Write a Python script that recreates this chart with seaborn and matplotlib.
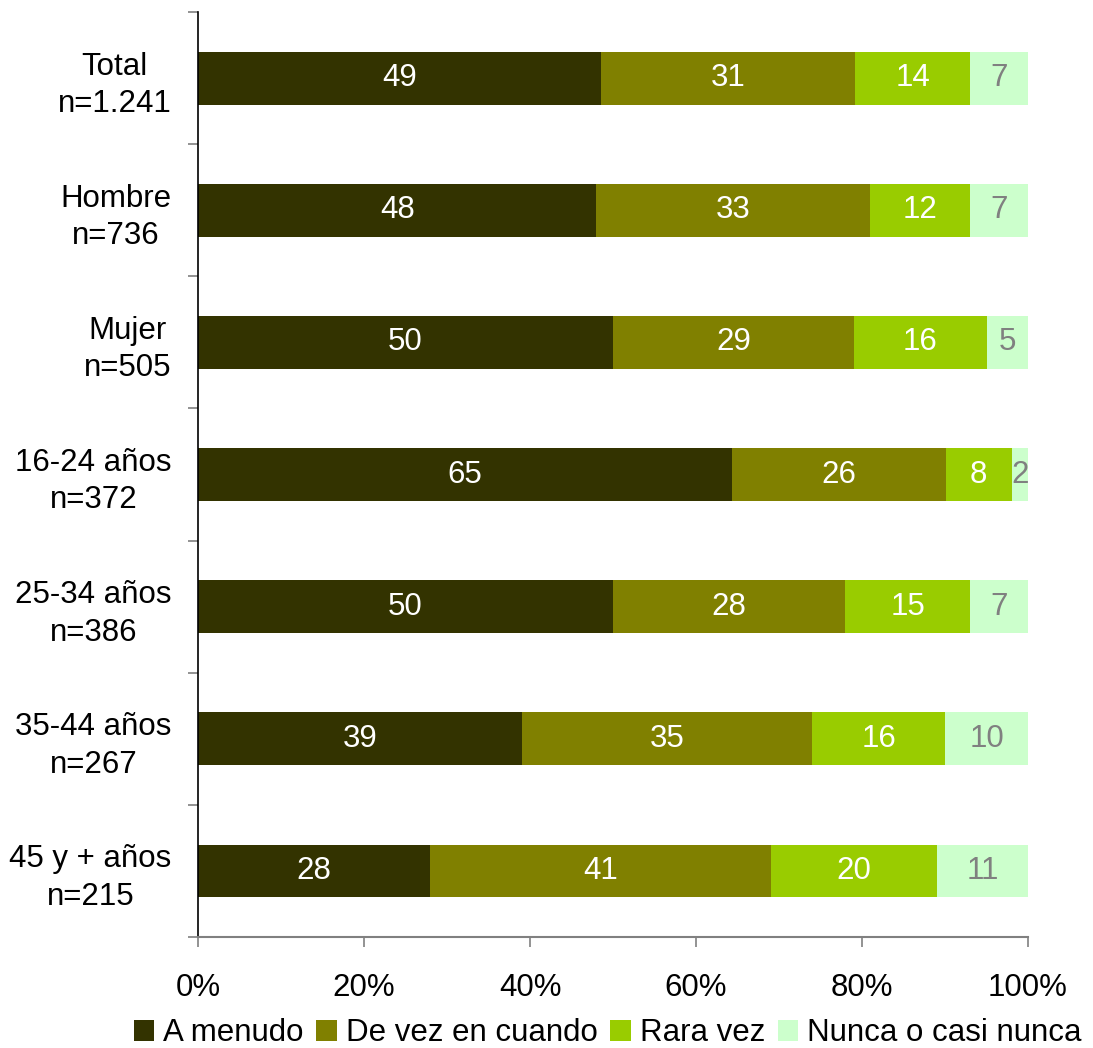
import numpy as np
import pandas as pd
import matplotlib
matplotlib.use("Agg")
import matplotlib.pyplot as plt
from matplotlib.patches import Patch
from matplotlib.ticker import FixedLocator, PercentFormatter
import seaborn as sns

categories = ["Total\nn=1.241", "Hombre\nn=736", "Mujer\nn=505", "16-24 años\nn=372",
              "25-34 años\nn=386", "35-44 años\nn=267", "45 y + años\nn=215"]
series_names = ["A menudo", "De vez en cuando", "Rara vez", "Nunca o casi nunca"]
a_menudo = [49, 48, 50, 65, 50, 39, 28]
de_vez = [31, 33, 29, 26, 28, 35, 41]
rara_vez = [14, 12, 16, 8, 15, 16, 20]
nunca = [7, 7, 5, 2, 7, 10, 11]
colors = ["#333300", "#808000", "#99CC00", "#CCFFCC"]
label_colors = ["white", "white", "white", "#808080"]

sns.set_theme(style="white")
plt.rcParams["font.family"] = ["Liberation Sans", "DejaVu Sans"]
plt.rcParams["text.color"] = "black"
plt.rcParams["xtick.labelcolor"] = "black"
plt.rcParams["ytick.labelcolor"] = "black"

FS = 22.5

vals = np.array([a_menudo, de_vez, rara_vez, nunca], dtype=float)
pct = vals / vals.sum(axis=0) * 100
cum = np.cumsum(pct, axis=0)
starts = cum - pct

fig = plt.figure(figsize=(10.93, 10.48), dpi=100)
ax = fig.add_axes([198 / 1093, 1 - 937 / 1048, 830 / 1093, 925 / 1048])

for i in range(len(series_names) - 1, -1, -1):
    df = pd.DataFrame({"cat": categories, "val": cum[i]})
    sns.barplot(data=df, y="cat", x="val", orient="h", color=colors[i],
                width=0.4, ax=ax, saturation=1, edgecolor="none", linewidth=0)

for i in range(len(series_names)):
    for j in range(len(categories)):
        ax.text(starts[i, j] + pct[i, j] / 2, j, str(int(vals[i, j])),
                ha="center", va="center", color=label_colors[i], fontsize=FS)

ax.set_xlim(0, 100)
ax.set_ylim(len(categories) - 0.5, -0.5)
ax.xaxis.set_major_locator(FixedLocator([0, 20, 40, 60, 80, 100]))
ax.xaxis.set_major_formatter(PercentFormatter(decimals=0))
ax.set_xlabel("")
ax.set_ylabel("")
ax.tick_params(axis="x", labelsize=FS, length=7, width=1.2, color="#808080",
               direction="out", bottom=True, pad=19, labelcolor="black")
ax.tick_params(axis="y", which="major", labelsize=FS, length=0, pad=19, labelcolor="black")
ax.yaxis.set_minor_locator(FixedLocator(np.arange(-0.5, len(categories), 1.0)))
ax.tick_params(axis="y", which="minor", length=7, width=1.2, color="#808080",
               direction="out", left=True)
for lab in ax.get_yticklabels():
    lab.set_multialignment("center")
    lab.set_linespacing(1.32)

for s in ["top", "right"]:
    ax.spines[s].set_visible(False)
ax.spines["left"].set_color("black")
ax.spines["left"].set_linewidth(1.2)
ax.spines["bottom"].set_color("#808080")
ax.spines["bottom"].set_linewidth(1.5)

handles = [Patch(facecolor=c, edgecolor="none") for c in colors]
fig.legend(handles, series_names, loc="lower center", bbox_to_anchor=(0.556, -0.027),
           ncol=4, frameon=False, fontsize=FS, handlelength=0.65, handleheight=0.65,
           handletextpad=0.3, columnspacing=0.4, labelcolor="black")

fig.savefig("out.png", dpi=100)
